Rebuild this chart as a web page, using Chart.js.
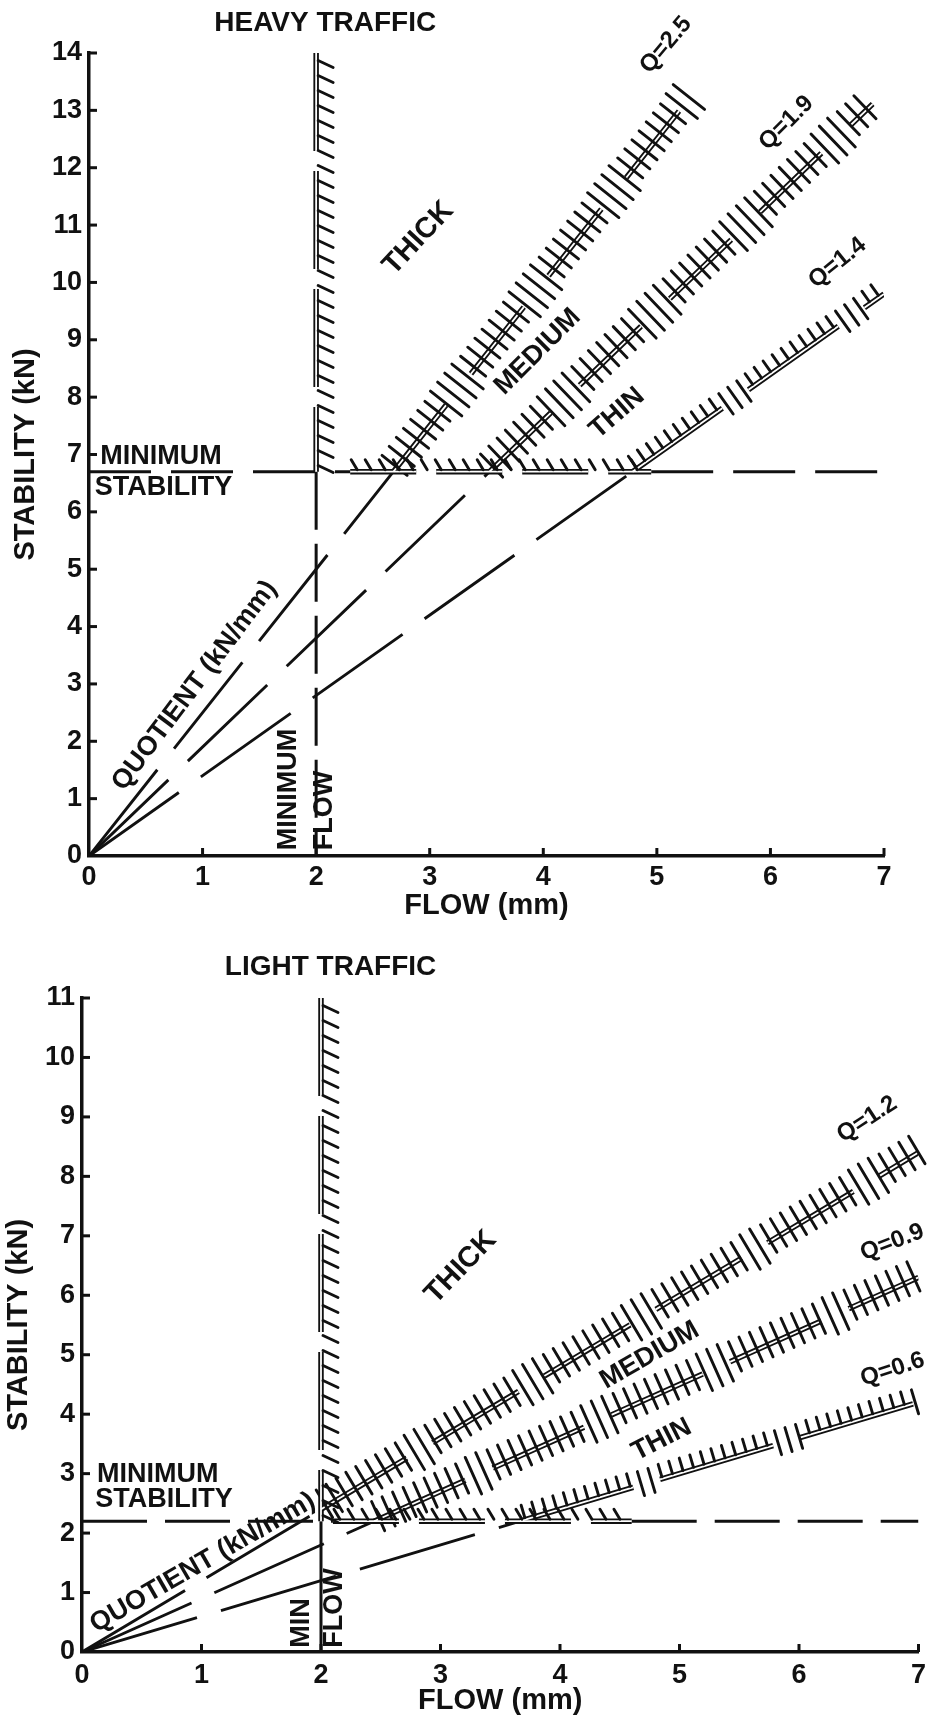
<!DOCTYPE html>
<html>
<head>
<meta charset="utf-8">
<title>Marshall criteria</title>
<script src="https://cdn.jsdelivr.net/npm/chart.js@4.4.1/dist/chart.umd.min.js"></script>
<style>
  html, body { margin: 0; padding: 0; background: #fff; }
  #page { position: relative; width: 933px; height: 1721px; overflow: hidden; }
  canvas { position: absolute; left: 0; }
  #heavyChart { top: 0; }
  #lightChart { top: 945px; }
</style>
</head>
<body>
<div id="page">
  <canvas id="heavyChart" width="933" height="945"></canvas>
  <canvas id="lightChart" width="933" height="776"></canvas>
</div>
<script>
// axis ticks
const flowTicks = [0, 1, 2, 3, 4, 5, 6, 7];
const heavyStabilityTicks = [0, 1, 2, 3, 4, 5, 6, 7, 8, 9, 10, 11, 12, 13, 14];
const lightStabilityTicks = [0, 1, 2, 3, 4, 5, 6, 7, 8, 9, 10, 11];

// criteria (flow in mm, stability in kN)
const minFlow = 2;
const heavyMinStability = 6.7;
const lightMinStability = 2.2;

// quotient lines Q = stability / flow, and the flow where each hatched band stops
const heavyQuotients = [2.5, 1.9, 1.4];
const heavyBandEnds = [5.35, 6.9, 7.0];
const lightQuotients = [1.2, 0.9, 0.6];
const lightBandEnds = [7.0, 7.0, 7.0];

// hatched stretch of the minimum stability line (flow from / to)
const heavyStabilityHatch = [2.3, 4.95];
const lightStabilityHatch = [2.1, 4.6];

const ink = '#111';
const family = "'Liberation Sans', Arial, Helvetica, sans-serif";

function pts(list) {
  return list.map(([x, y]) => ({ x, y }));
}

function line(points, width, dash) {
  return {
    data: pts(points), showLine: true, borderColor: ink, backgroundColor: ink,
    borderWidth: width, borderDash: dash, pointRadius: 0, fill: false
  };
}

function band(points, dash, hatch) {
  const ds = line(points, 5.5, dash);
  ds.hatch = hatch;
  return ds;
}

// hatch marks along a band: ticks drawn from the band's own two end points
function drawHatch(chart, ds) {
  const { ctx, scales: { x, y } } = chart;
  const a = ds.data[0], b = ds.data[ds.data.length - 1];
  const x0 = x.getPixelForValue(a.x), y0 = y.getPixelForValue(a.y);
  const x1 = x.getPixelForValue(b.x), y1 = y.getPixelForValue(b.y);
  const len = Math.hypot(x1 - x0, y1 - y0);
  const dx = (x1 - x0) / len, dy = (y1 - y0) / len;
  const nx = dy, ny = -dx;
  const dash = ds.borderDash;
  const period = dash[0] + dash[1];
  const h = ds.hatch;

  ctx.save();
  // white core turns the thick stroke into a double line
  ctx.strokeStyle = '#fff';
  ctx.lineWidth = 1.8;
  ctx.setLineDash(dash);
  ctx.beginPath();
  ctx.moveTo(x0, y0);
  ctx.lineTo(x1, y1);
  ctx.stroke();

  ctx.setLineDash([]);
  ctx.strokeStyle = ink;
  ctx.lineWidth = 2.9;
  ctx.lineCap = 'round';
  for (let s = h.step / 2; s < len; s += h.step) {
    const px = x0 + dx * s, py = y0 + dy * s;
    const on = (s % period) < dash[0];
    let n0, n1, d0 = 0, d1 = 0;
    if (h.kind === 'cross') {
      n0 = on ? -13 : -19; n1 = on ? 19 : 21;
    } else if (h.kind === 'comb') {
      n0 = on ? 2 : -11; n1 = on ? 15 : 14;
    } else if (h.kind === 'ledge') {
      n0 = 2; n1 = 12; d1 = -6;
    } else {
      n0 = 2; n1 = 17; d1 = 7;
    }
    ctx.beginPath();
    ctx.moveTo(px + nx * n0 + dx * d0, py + ny * n0 + dy * d0);
    ctx.lineTo(px + nx * n1 + dx * d1, py + ny * n1 + dy * d1);
    ctx.stroke();
  }
  ctx.restore();
}

const panelMarks = {
  id: 'panelMarks',
  afterDatasetsDraw(chart) {
    chart.data.datasets.forEach(ds => { if (ds.hatch) drawHatch(chart, ds); });
  },
  afterDraw(chart, args, opts) {
    const { ctx, scales: { x, y } } = chart;
    ctx.save();
    // tick marks point into the plot
    ctx.strokeStyle = ink;
    ctx.lineWidth = 3;
    x.ticks.forEach(t => {
      if (t.value === 0) return;
      const px = x.getPixelForValue(t.value);
      ctx.beginPath(); ctx.moveTo(px, y.bottom); ctx.lineTo(px, y.bottom - 8); ctx.stroke();
    });
    y.ticks.forEach(t => {
      if (t.value === 0) return;
      const py = y.getPixelForValue(t.value);
      ctx.beginPath(); ctx.moveTo(x.left, py); ctx.lineTo(x.left + 8, py); ctx.stroke();
    });
    // captions placed in data units
    opts.texts.forEach(tx => {
      ctx.save();
      ctx.translate(x.getPixelForValue(tx.x), y.getPixelForValue(tx.y));
      ctx.rotate((tx.rot || 0) * Math.PI / 180);
      ctx.font = 'bold ' + (tx.size || 27) + 'px ' + family;
      ctx.textAlign = tx.align || 'center';
      ctx.textBaseline = 'middle';
      ctx.fillStyle = ink;
      ctx.fillText(tx.text, 0, 0);
      ctx.restore();
    });
    ctx.restore();
  }
};

function buildPanel(p) {
  const datasets = [];
  p.quotients.forEach((q, i) => {
    const xs = Math.max(p.minStability / q, minFlow);
    const xe = p.bandEnds[i];
    const thin = i === p.quotients.length - 1;
    datasets.push(line([[0, 0], [xs, q * xs]], 2.9, p.lowDash));
    datasets.push(band([[xs, q * xs], [xe, q * xe]],
      thin ? p.thinDash : p.crossDash,
      thin ? { kind: 'comb', step: 11 } : { kind: 'cross', step: 11.5 }));
  });

  const s = p.minStability, [hs, he] = p.stabilityHatch;
  // minimum stability: plain dashes outside the hatched stretch
  datasets.push(line([[0, s], [hs, s], [(hs + he) / 2, null], [he, s], [7, s]], 3, p.stabilityDash));
  datasets.push(band([[hs, s], [he, s]], [66, 20], { kind: 'ledge', step: 14 }));

  // minimum flow: below the stability limit, then hatched above it
  datasets.push(line([[minFlow, s], [minFlow, 0]], 3, p.flowDash));
  datasets.push(band([[minFlow, p.stabilityMax], [minFlow, s]], [98, 20], { kind: 'side', step: 15 }));

  const tickFont = { family, size: 27, weight: 'bold' };
  const titleFont = { family, size: 29, weight: 'bold' };

  return new Chart(document.getElementById(p.canvas), {
    type: 'scatter',
    data: { datasets },
    options: {
      responsive: false,
      animation: false,
      events: [],
      spanGaps: false,
      layout: { padding: p.padding },
      plugins: {
        legend: { display: false },
        tooltip: { enabled: false },
        panelMarks: { texts: p.texts }
      },
      scales: {
        x: {
          type: 'linear', min: 0, max: 7,
          afterBuildTicks: axis => { axis.ticks = flowTicks.map(v => ({ value: v })); },
          afterFit: axis => { axis.height = p.xAxisHeight; },
          ticks: { color: ink, font: tickFont, padding: p.xTickPad, maxRotation: 0 },
          grid: { drawOnChartArea: false, drawTicks: false },
          border: { color: ink, width: 3.5 },
          title: { display: true, text: 'FLOW (mm)', color: ink, font: titleFont, padding: { top: 0, bottom: p.xTitlePad } }
        },
        y: {
          type: 'linear', min: 0, max: p.stabilityMax,
          afterBuildTicks: axis => { axis.ticks = p.stabilityTicks.map(v => ({ value: v })); },
          afterFit: axis => { axis.width = p.yAxisWidth; },
          ticks: { color: ink, font: tickFont, padding: 7 },
          grid: { drawOnChartArea: false, drawTicks: false },
          border: { color: ink, width: 3.5 },
          title: { display: true, text: 'STABILITY (kN)', color: ink, font: titleFont, padding: { top: p.yTitlePad, bottom: 0 } }
        }
      }
    },
    plugins: [panelMarks]
  });
}

buildPanel({
  canvas: 'heavyChart',
  quotients: heavyQuotients,
  bandEnds: heavyBandEnds,
  minStability: heavyMinStability,
  stabilityMax: 14,
  stabilityTicks: heavyStabilityTicks,
  stabilityHatch: heavyStabilityHatch,
  lowDash: [110, 27],
  crossDash: [85, 40],
  thinDash: [110, 32],
  stabilityDash: [62, 20],
  flowDash: [58, 14],
  padding: { top: 53, right: 49, bottom: 0, left: 0 },
  yAxisWidth: 89,
  xAxisHeight: 89,
  xTickPad: 5,
  xTitlePad: 22,
  yTitlePad: 9,
  texts: [
    { text: 'HEAVY TRAFFIC', x: 2.08, y: 14.52, size: 28 },
    { text: 'MINIMUM', x: 0.1, y: 6.96, align: 'left', size: 27 },
    { text: 'STABILITY', x: 0.05, y: 6.42, align: 'left', size: 27 },
    { text: 'MINIMUM', x: 1.76, y: 0.1, rot: -90, align: 'left', size: 27 },
    { text: 'FLOW', x: 2.07, y: 0.1, rot: -90, align: 'left', size: 27 },
    { text: 'QUOTIENT (kN/mm)', x: 0.93, y: 2.97, rot: -53, size: 27 },
    { text: 'THICK', x: 2.9, y: 10.77, rot: -47, size: 29 },
    { text: 'MEDIUM', x: 3.95, y: 8.79, rot: -45, size: 27 },
    { text: 'THIN', x: 4.65, y: 7.72, rot: -41, size: 27 },
    { text: 'Q=2.5', x: 5.08, y: 14.14, rot: -50, size: 24 },
    { text: 'Q=1.9', x: 6.14, y: 12.78, rot: -45, size: 24 },
    { text: 'Q=1.4', x: 6.59, y: 10.34, rot: -39, size: 24 }
  ]
});

buildPanel({
  canvas: 'lightChart',
  quotients: lightQuotients,
  bandEnds: lightBandEnds,
  minStability: lightMinStability,
  stabilityMax: 11,
  stabilityTicks: lightStabilityTicks,
  stabilityHatch: lightStabilityHatch,
  lowDash: [120, 25],
  crossDash: [100, 30],
  thinDash: [118, 28],
  stabilityDash: [65, 18],
  flowDash: [],
  padding: { top: 53, right: 13, bottom: 0, left: 0 },
  yAxisWidth: 82,
  xAxisHeight: 69,
  xTickPad: 7,
  xTitlePad: 3,
  yTitlePad: 2,
  texts: [
    { text: 'LIGHT TRAFFIC', x: 2.08, y: 11.52, size: 28 },
    { text: 'MINIMUM', x: 0.125, y: 2.98, align: 'left', size: 27 },
    { text: 'STABILITY', x: 0.11, y: 2.56, align: 'left', size: 27 },
    { text: 'MIN', x: 1.84, y: 0.07, rot: -90, align: 'left', size: 27 },
    { text: 'FLOW', x: 2.11, y: 0.07, rot: -90, align: 'left', size: 27 },
    { text: 'QUOTIENT (kN/mm)', x: 1.01, y: 1.5, rot: -30, size: 27 },
    { text: 'THICK', x: 3.17, y: 6.47, rot: -46, size: 29 },
    { text: 'MEDIUM', x: 4.75, y: 4.99, rot: -30, size: 27 },
    { text: 'THIN', x: 4.85, y: 3.57, rot: -27, size: 27 },
    { text: 'Q=1.2', x: 6.57, y: 8.96, rot: -33, size: 24 },
    { text: 'Q=0.9', x: 6.78, y: 6.89, rot: -21, size: 24 },
    { text: 'Q=0.6', x: 6.52, y: 4.58, rot: -18, align: 'left', size: 24 }
  ]
});
</script>
</body>
</html>
